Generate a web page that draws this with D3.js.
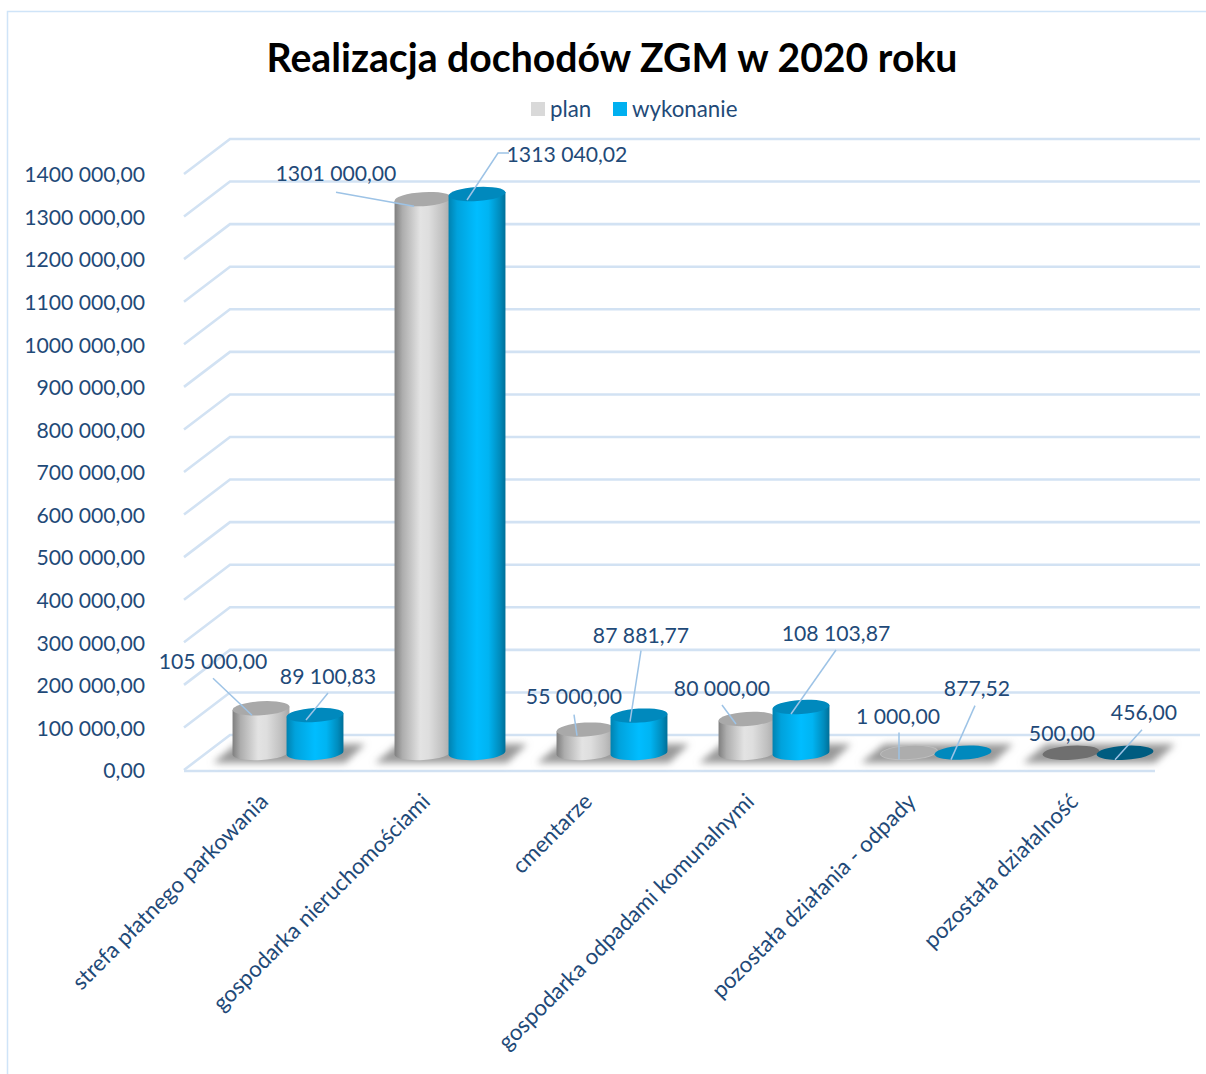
<!DOCTYPE html>
<meta charset="utf-8">
<style>
html, body { margin: 0; background: #fff; }
svg { display: block; }
text { font-family: Lato, sans-serif; fill: #1f4a78; }
</style>
<body>
<script src="https://d3js.org/d3.v7.min.js"></script>
<script>
var categories = ["strefa płatnego parkowania", "gospodarka nieruchomościami", "cmentarze",
  "gospodarka odpadami komunalnymi", "pozostała działania - odpady", "pozostała działalność"];
var seriesNames = ["plan", "wykonanie"];
var plan = [105000, 1301000, 55000, 80000, 1000, 500];
var wykonanie = [89100.83, 1313040.02, 87881.77, 108103.87, 877.52, 456];
var tickValues = d3.range(0, 1400001, 100000);

// label placement, relative to the top of each cylinder: [text dx, text dy, leader start dx, dy, leader end dx, dy]
var planLabels = [[-48, -47, -48, -30, -9, 7], [-87, -26, -87, -7, -9, 7], [-11, -34, -11, -15, -8, 6],
  [-25, -31, -25, -14, -11, 5], [-11, -37, -10, -20, -10, 7], [-9, -20, null]];
var wykonanieLabels = [[13, -39, 13, -22, -9, 5], [90, -40, 21, -41, -10, 6], [2, -81, 2, -65, -9, 6],
  [35, -74, 35, -57, -10, 7], [14, -65, 12, -47, -12, 7], [19, -41, 17, -23, -10, 7]];

var width = 1206, height = 1074;
var depthX = 46, depthY = 35;
var textColor = "#1f4a78", gridColor = "#d2e2f3";

var y = d3.scaleLinear().domain([0, 1400000]).range([770, 174]);
var x0 = d3.scaleBand().domain(categories).range([207, 1179]);
var x1 = d3.scaleBand().domain(seriesNames).range([27, 135]);

function fmt(v) {
  var s = v.toFixed(2).replace(".", ",");
  var n = s.length;
  return n > 6 ? s.slice(0, n - 6) + " " + s.slice(n - 6) : s;
}

var svg = d3.select("body").append("svg").attr("width", width).attr("height", height);
var defs = svg.append("defs");

function grad(id, stops) {
  var g = defs.append("linearGradient").attr("id", id);
  stops.forEach(function(s) {
    g.append("stop").attr("offset", s[0]).attr("stop-color", s[1]);
  });
}
grad("gray", [[0, "#7f7f7f"], [0.14, "#adadad"], [0.45, "#e3e3e3"], [0.6, "#dedede"], [0.85, "#c0c0c0"], [1, "#a8a8a8"]]);
grad("blue", [[0, "#0082b0"], [0.15, "#00a2dc"], [0.5, "#00bdff"], [0.7, "#00b4f2"], [0.9, "#008cbd"], [1, "#006f98"]]);
defs.append("filter").attr("id", "blur").attr("x", "-20%").attr("y", "-60%").attr("width", "140%").attr("height", "220%")
  .append("feGaussianBlur").attr("stdDeviation", 3.5);

// chart frame
svg.append("path").attr("d", "M7.5,1074V11.5H1206").attr("fill", "none")
  .attr("stroke", "#cfe4f8").attr("stroke-width", 1.5);

// gridlines: front tick, up the side wall, along the back
svg.append("g").selectAll("path").data(tickValues).join("path")
  .attr("fill", "none").attr("stroke", gridColor).attr("stroke-width", 2.6)
  .attr("d", function(d) {
    return d3.line()([[184, y(d)], [184 + depthX, y(d) - depthY], [1200, y(d) - depthY]]);
  });
// floor edge
svg.append("line").attr("x1", 184).attr("x2", 1155).attr("y1", y(0) + 1).attr("y2", y(0) + 1)
  .attr("stroke", gridColor).attr("stroke-width", 2.6);

// axis labels
var axis = d3.axisLeft(y).tickValues(tickValues).tickFormat(fmt).tickSize(0).tickPadding(0);
var axisG = svg.append("g").attr("transform", "translate(145,1)").call(axis);
axisG.select(".domain").remove();
axisG.selectAll("text").attr("font-size", 21.2).attr("font-family", "Lato, sans-serif").attr("fill", textColor);

// floor shadows
svg.append("g").selectAll("path").data(categories).join("path")
  .attr("filter", "url(#blur)").attr("fill", "#9a9a9a")
  .attr("d", function(d) {
    var c = x0(d) + x0.bandwidth() / 2;
    return d3.line()([[c - 75, 763], [c - 52, 744], [c + 77, 744], [c + 57, 763]]);
  });

var base = 17; // cylinders stand halfway into the floor
var rx = 28.5, ry = 7, tilt = -3.5;
var dx = rx * Math.cos(tilt * Math.PI / 180), dy = rx * Math.sin(tilt * Math.PI / 180);

var points = [];
categories.forEach(function(c, i) {
  points.push({ c: c, s: "plan", v: plan[i], i: i, lab: planLabels[i] });
  points.push({ c: c, s: "wykonanie", v: wykonanie[i], i: i, lab: wykonanieLabels[i] });
});
function cx(d) { return x0(d.c) + x1(d.s) + x1.bandwidth() / 2; }
function topY(d) { return y(d.v) - base; }

function topFill(d) {
  if (d.i == 5) return d.s == "plan" ? "#6f6f6f" : "#005c80";
  if (d.i == 4 && d.s == "plan") return "#adadad";
  return d.s == "plan" ? "#a9a9a9" : "#0089bd";
}

var cyl = svg.append("g").selectAll("g").data(points).join("g");
cyl.filter(function(d) { return d.i < 4; }).append("path")
  .attr("fill", function(d) { return d.s == "plan" ? "url(#gray)" : "url(#blue)"; })
  .attr("d", function(d) {
    var c = cx(d), b = y(0) - base, t = topY(d);
    return "M" + (c - dx) + "," + (t - dy) + "L" + (c - dx) + "," + (b - dy)
      + "A" + rx + "," + ry + " " + tilt + " 0 0 " + (c + dx) + "," + (b + dy)
      + "L" + (c + dx) + "," + (t + dy) + "Z";
  });
cyl.append("ellipse")
  .attr("rx", rx).attr("ry", ry)
  .attr("fill", topFill)
  .attr("stroke", function(d) { return d.i == 4 && d.s == "plan" ? "#bdbdbd" : "none"; })
  .attr("transform", function(d) { return "translate(" + cx(d) + "," + topY(d) + ") rotate(" + tilt + ")"; });

// leaders and value labels
svg.append("g").selectAll("path").data(points.filter(function(d) { return d.lab[2] !== null; })).join("path")
  .attr("fill", "none").attr("stroke", "#9dc3e6").attr("stroke-width", 1.5)
  .attr("d", function(d) {
    var c = cx(d), t = topY(d), l = d.lab;
    var pts = [[c + l[2], t + l[3]], [c + l[4], t + l[5]]];
    if (l[0] - l[2] > 40) pts.unshift([c + l[2] + 11, t + l[3]]);
    return d3.line()(pts);
  });
svg.append("g").selectAll("text").data(points).join("text")
  .attr("text-anchor", "middle").attr("dominant-baseline", "central").attr("font-size", 21.2)
  .attr("x", function(d) { return cx(d) + d.lab[0]; })
  .attr("y", function(d) { return topY(d) + d.lab[1]; })
  .text(function(d) { return fmt(d.v); });

// category labels
svg.append("g").selectAll("text").data(categories).join("text")
  .attr("text-anchor", "end").attr("font-size", 22.3)
  .attr("transform", function(d) {
    return "translate(" + (x0(d) + x0.bandwidth() / 2 - 18.5) + ",803) rotate(-45)";
  })
  .text(function(d) { return d; });

// title
svg.append("text").attr("x", 612).attr("y", 72).attr("text-anchor", "middle")
  .attr("font-size", 39.2).attr("font-weight", 700).style("fill", "#000")
  .text("Realizacja dochodów ZGM w 2020 roku");

// legend
var legendX = d3.scaleOrdinal().domain(seriesNames).range([531, 613]);
var legend = svg.append("g").selectAll("g").data(seriesNames).join("g")
  .attr("transform", function(d) { return "translate(" + legendX(d) + ",102)"; });
legend.append("rect").attr("width", 14).attr("height", 14)
  .attr("fill", function(d) { return d == "plan" ? "#d9d9d9" : "#00b0f0"; });
legend.append("text").attr("x", 19).attr("y", 6).attr("dominant-baseline", "central")
  .attr("font-size", 22.3).text(function(d) { return d; });
</script>
</body>
